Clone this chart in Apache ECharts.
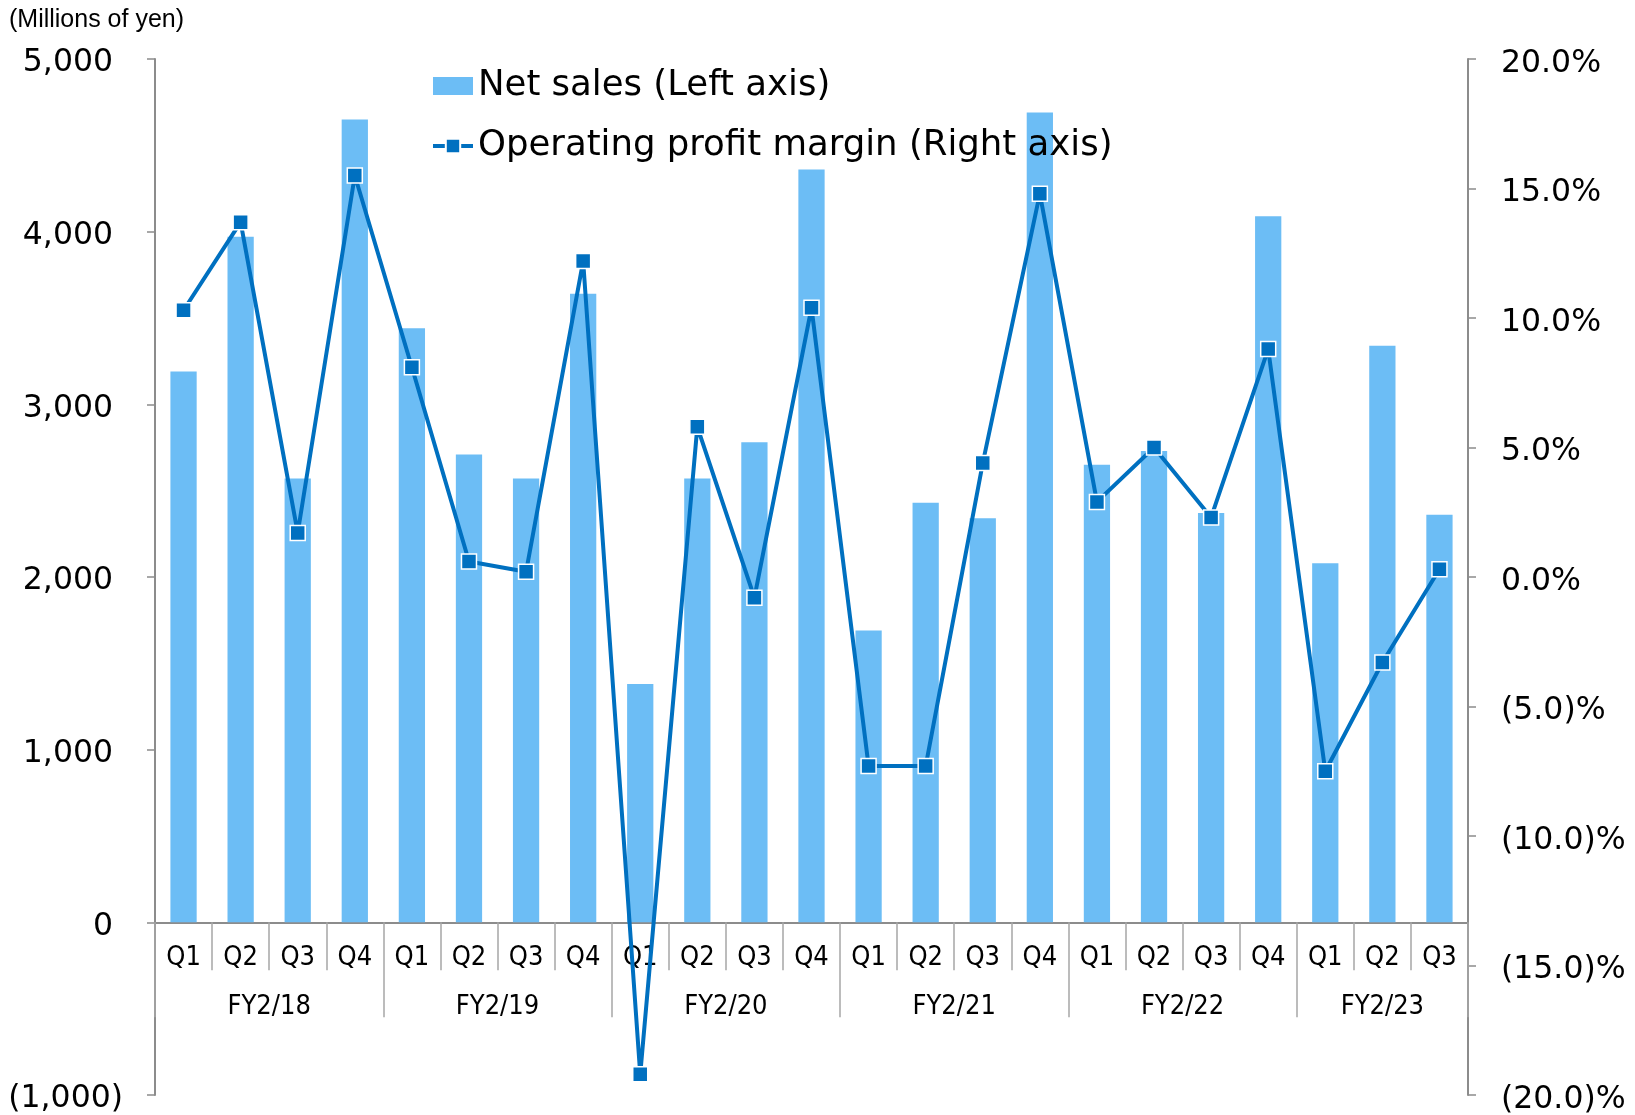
<!DOCTYPE html>
<html>
<head>
<meta charset="utf-8">
<script src="https://cdn.jsdelivr.net/npm/echarts@6/dist/echarts.min.js"></script>
<style>
  html, body { margin: 0; padding: 0; background: #fff; }
  #chart { width: 1635px; height: 1115px; }
</style>
</head>
<body>
<div id="chart"></div>
<script>
// ---- Data ----
const fiscalYears = ['FY2/18', 'FY2/19', 'FY2/20', 'FY2/21', 'FY2/22', 'FY2/23'];
const quartersPerYear = [4, 4, 4, 4, 4, 3];
const quarterLabels = ['Q1', 'Q2', 'Q3', 'Q4', 'Q1', 'Q2', 'Q3', 'Q4', 'Q1', 'Q2', 'Q3', 'Q4',
                       'Q1', 'Q2', 'Q3', 'Q4', 'Q1', 'Q2', 'Q3', 'Q4', 'Q1', 'Q2', 'Q3'];
const netSales = [3190, 3970, 2570, 4650, 3440, 2710, 2570, 3640, 1380, 2570, 2780, 4360,
                  1690, 2430, 2340, 4690, 2650, 2730, 2370, 4090, 2080, 3340, 2360];
const opMargin = [10.3, 13.7, 1.7, 15.5, 8.1, 0.6, 0.2, 12.2, -19.2, 5.8, -0.8, 10.4,
                  -7.3, -7.3, 4.4, 14.8, 2.9, 5.0, 2.3, 8.8, -7.5, -3.3, 0.3];
const leftTicks = { min: -1000, max: 5000, interval: 1000 };
const rightTicks = { min: -20, max: 20, interval: 5 };

// group boundaries and centres derived from the quarter counts
const yearBounds = [0];
const yearCentres = [];
quartersPerYear.forEach(function (n) {
  const s = yearBounds[yearBounds.length - 1];
  yearCentres.push(s + n / 2);
  yearBounds.push(s + n);
});
const totalQ = yearBounds[yearBounds.length - 1];

// layout
const W = 1635, H = 1115;
const gridBox = { left: 155, right: 167, top: 59, bottom: 20 };
const gridH = H - gridBox.top - gridBox.bottom;
// place the category axis at the zero of the left axis
const zeroOffset = -gridH * (0 - leftTicks.min) / (leftTicks.max - leftTicks.min);

const axisGrey = '#8c8c8c';
const sepGrey = '#a6a6a6';
const wideFont = 'DejaVu Sans, Verdana, sans-serif';
const narrowFont = 'DejaVu Sans Condensed, Liberation Sans, sans-serif';

function fmtNum(v) {
  const s = Math.abs(v).toLocaleString('en-US');
  return v < 0 ? '{neg|(' + s + ')}' : '{pos|' + s + '}';
}
function fmtPct(v) {
  const s = Math.abs(v).toFixed(1);
  return '{p|' + (v < 0 ? '(' + s + ')%' : s + '%') + '}';
}

const yLabelBase = { fontSize: 31.5, color: '#000', fontFamily: wideFont };

const chart = echarts.init(document.getElementById('chart'), null, { renderer: 'canvas' });
chart.setOption({
  animation: false,
  backgroundColor: '#fff',
  title: {
    text: '(Millions of yen)',
    left: 4, top: 3,
    textStyle: { fontSize: 25, fontWeight: 'normal', color: '#000', fontFamily: 'Liberation Sans, sans-serif' }
  },
  legend: {
    orient: 'vertical',
    left: 426, top: 63,
    itemWidth: 40, itemHeight: 18, itemGap: 24,
    textStyle: { fontSize: 35.5, color: '#000', fontFamily: wideFont },
    data: [
      { name: 'Net sales (Left axis)', icon: 'rect' },
      { name: 'Operating profit margin (Right axis)', lineStyle: { width: 4 } }
    ]
  },
  grid: {
    left: gridBox.left, right: gridBox.right, top: gridBox.top, bottom: gridBox.bottom,
    containLabel: false, outerBoundsMode: 'none'
  },
  xAxis: [
    {
      type: 'category',
      position: 'bottom',
      offset: zeroOffset,
      data: quarterLabels,
      axisLine: { onZero: false, lineStyle: { color: axisGrey, width: 2 } },
      axisTick: { show: true, interval: 0, length: 48, lineStyle: { color: sepGrey, width: 1.5 } },
      axisLabel: { interval: 0, margin: 22, fontSize: 27, color: '#000', fontFamily: narrowFont },
      splitLine: { show: false }
    },
    {
      type: 'value',
      position: 'bottom',
      offset: zeroOffset,
      min: 0, max: totalQ,
      axisLine: { show: false, onZero: false },
      axisTick: { show: true, customValues: yearBounds, length: 95, lineStyle: { color: sepGrey, width: 1.5 } },
      axisLabel: {
        customValues: yearCentres, margin: 71, fontSize: 27, color: '#000', fontFamily: narrowFont,
        formatter: function (v) {
          const i = yearCentres.indexOf(v);
          return i >= 0 ? fiscalYears[i] : '';
        }
      },
      splitLine: { show: false }
    }
  ],
  yAxis: [
    {
      type: 'value',
      position: 'left',
      min: leftTicks.min, max: leftTicks.max, interval: leftTicks.interval,
      axisLine: { show: true, onZero: false, lineStyle: { color: axisGrey, width: 2 } },
      axisTick: { show: true, length: 8, lineStyle: { color: axisGrey, width: 1.5 } },
      axisLabel: {
        margin: 32, formatter: fmtNum, fontSize: 31.5, color: '#000', fontFamily: wideFont,
        rich: {
          pos: Object.assign({ padding: [8, 10, 0, 0] }, yLabelBase),
          neg: Object.assign({ padding: [8, 0, 0, 0] }, yLabelBase)
        }
      },
      splitLine: { show: false }
    },
    {
      type: 'value',
      position: 'right',
      min: rightTicks.min, max: rightTicks.max, interval: rightTicks.interval,
      axisLine: { show: true, onZero: false, lineStyle: { color: axisGrey, width: 2 } },
      axisTick: { show: true, length: 8, lineStyle: { color: axisGrey, width: 1.5 } },
      axisLabel: {
        margin: 33, formatter: fmtPct, fontSize: 31.5, color: '#000', fontFamily: wideFont,
        rich: { p: Object.assign({ padding: [9, 0, 0, 0] }, yLabelBase) }
      },
      splitLine: { show: false }
    }
  ],
  series: [
    {
      name: 'Net sales (Left axis)',
      type: 'bar',
      xAxisIndex: 0, yAxisIndex: 0,
      data: netSales,
      barWidth: '46%',
      itemStyle: { color: '#6cbdf5' },
      z: 2
    },
    {
      name: 'Operating profit margin (Right axis)',
      type: 'line',
      xAxisIndex: 0, yAxisIndex: 1,
      data: opMargin,
      symbol: 'rect', symbolSize: 15,
      lineStyle: { color: '#0070c0', width: 4 },
      itemStyle: { color: '#0070c0', borderColor: '#ffffff', borderWidth: 1.5 },
      z: 5
    }
  ]
});
</script>
</body>
</html>
